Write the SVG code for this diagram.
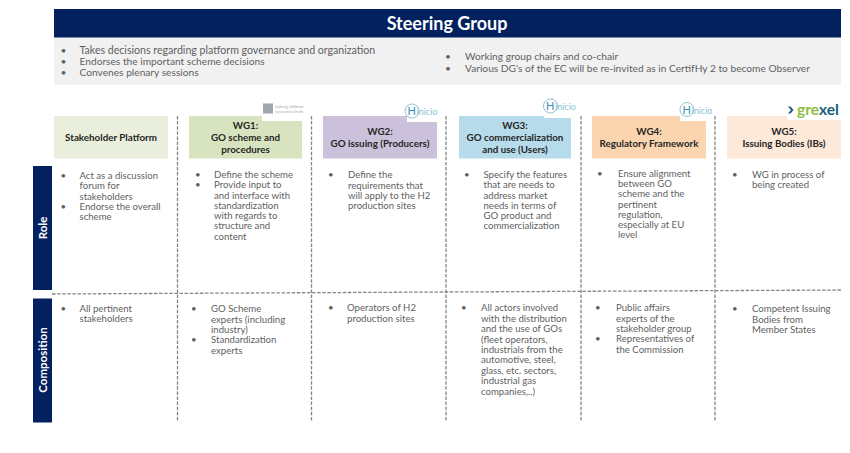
<svg xmlns="http://www.w3.org/2000/svg" width="850" height="453" viewBox="0 0 850 453">
<style>
text{font-family:"Lato","Open Sans","Liberation Sans",sans-serif}
.b{font-size:9.600px;fill:#5f5f5f}
.t{font-size:10.200px;fill:#5f5f5f}
.h{font-size:9.800px;font-weight:700;fill:#262626;text-anchor:middle}
.side{font-size:11.500px;font-weight:700;fill:#fff;text-anchor:middle}
.navy{fill:#03215f}
.dash{stroke:#858585;stroke-width:1.300;stroke-dasharray:3.500 1.600;fill:none}
.hn{font-size:9px;fill:#8cc4d6}
.hH{font-size:11px;fill:#3d8fae}
.hc{fill:#fff;stroke:#6fb3ca;stroke-width:.8}
</style>
<rect width="850" height="453" fill="#fff"/>
<g id="steering-group">
<rect x="54" y="37" width="787" height="48" fill="#f1f1f1"/>
<rect class="navy" x="54" y="9" width="787" height="28.500"/>
<text x="447" y="30" font-size="18" font-weight="700" fill="#fff" text-anchor="middle">Steering Group</text>
<g class="t">
<text x="60.500" y="53.500">•</text><text x="79.500" y="53.500" font-size="10.600">Takes decisions regarding platform governance and organization</text>
<text x="60.500" y="65">•</text><text x="79.500" y="65">Endorses the important scheme decisions</text>
<text x="60.500" y="76">•</text><text x="79.500" y="76">Convenes plenary sessions</text>
<text x="445" y="60">•</text><text x="465" y="60">Working group chairs and co-chair</text>
<text x="445" y="71.500">•</text><text x="465" y="71.500">Various DG's of the EC will be re-invited as in CertifHy 2 to become Observer</text>
</g>
</g>
<g id="connectors">
<path class="dash" d="M177.500 116V422M311.500 116V422M446 116V422M581 116V422M715 116V422"/>
<path class="dash" d="M52 294L841 290" stroke-dasharray="4.500 2"/>
</g>
<g id="role-label"><rect class="navy" x="33" y="166" width="19" height="124"/><text class="side" transform="translate(47 228) rotate(-90)">Role</text></g>
<g id="composition-label"><rect class="navy" x="33" y="298.500" width="19" height="124"/><text class="side" transform="translate(47 360) rotate(-90)">Composition</text></g>
<g id="stakeholder-platform">
<rect x="54" y="116" width="114" height="42.500" fill="#e9efdc"/>
<text class="h" x="111" y="141">Stakeholder Platform</text>
<g class="b">
<text x="60.500" y="179">•</text><text x="79.500" y="179">Act as a discussion</text><text x="79.500" y="189">forum for</text><text x="79.500" y="199.500">stakeholders</text>
<text x="60.500" y="209.500">•</text><text x="79.500" y="209.500">Endorse the overall</text><text x="79.500" y="220">scheme</text>
<text x="60.500" y="311.500">•</text><text x="79.500" y="311.500">All pertinent</text><text x="79.500" y="322">stakeholders</text>
</g>
</g>
<g id="wg1">
<rect x="189" y="116" width="113" height="42.500" fill="#d8e4bf"/>
<rect x="262" y="116" width="41" height="5" fill="#fff"/>
<text class="h" x="245.500" y="129">WG1:</text><text class="h" x="245.500" y="141">GO scheme and</text><text class="h" x="245.500" y="153">procedures</text>
<rect x="263" y="103.500" width="10" height="10" fill="#a0a8ad"/>
<text x="275" y="107.500" font-size="4.500" fill="#a8b0b6">ludwig bölkow</text><text x="275" y="112.500" font-size="4.500" fill="#a8b0b6">systemtechnik</text>
<g class="b">
<text x="195" y="178">•</text><text x="214" y="178">Define the scheme</text>
<text x="195" y="188">•</text><text x="214" y="188">Provide input to</text><text x="214" y="198.500">and interface with</text><text x="214" y="208.500">standardization</text><text x="214" y="219">with regards to</text><text x="214" y="229">structure and</text><text x="214" y="239.500">content</text>
<text x="191" y="312">•</text><text x="211" y="312">GO Scheme</text><text x="211" y="323">experts (including</text><text x="211" y="333">industry)</text>
<text x="191" y="343">•</text><text x="211" y="343">Standardization</text><text x="211" y="354">experts</text>
</g>
</g>
<g id="wg2">
<rect x="323" y="116" width="114" height="42.500" fill="#ccc1da"/>
<rect x="407" y="116" width="30" height="6" fill="#fff"/>
<text class="h" x="380" y="135">WG2:</text><text class="h" x="380" y="147">GO issuing (Producers)</text>
<circle class="hc" cx="412" cy="111" r="7"/><text class="hH" x="407.500" y="115">H</text><text class="hn" x="416.500" y="115">inicio</text>
<g class="b">
<text x="328" y="178">•</text><text x="348" y="178">Define the</text><text x="348" y="188.500">requirements that</text><text x="348" y="198.500">will apply to the H2</text><text x="348" y="209">production sites</text>
<text x="328" y="311">•</text><text x="347" y="311">Operators of H2</text><text x="347" y="321.500">production sites</text>
</g>
</g>
<g id="wg3">
<rect x="459" y="116" width="112" height="42.500" fill="#b6dbea"/>
<rect x="544" y="116" width="27" height="2" fill="#fff"/>
<text class="h" x="515" y="129">WG3:</text><text class="h" x="515" y="141">GO commercialization</text><text class="h" x="515" y="153">and use (Users)</text>
<circle class="hc" cx="550.500" cy="106" r="7"/><text class="hH" x="546" y="110">H</text><text class="hn" x="555" y="110">inicio</text>
<g class="b">
<text x="464" y="178">•</text><text x="483.500" y="178">Specify the features</text><text x="483.500" y="188">that are needs to</text><text x="483.500" y="198.500">address market</text><text x="483.500" y="208.500">needs in terms of</text><text x="483.500" y="219">GO product and</text><text x="483.500" y="229">commercialization</text>
<text x="461" y="311">•</text><text x="481" y="311">All actors involved</text><text x="481" y="322">with the distribution</text><text x="481" y="332">and the use of GOs</text><text x="481" y="342.500">(fleet operators,</text><text x="481" y="353">industrials from the</text><text x="481" y="363">automotive, steel,</text><text x="481" y="374">glass, etc. sectors,</text><text x="481" y="384">industrial gas</text><text x="481" y="394.500">companies,..)</text>
</g>
</g>
<g id="wg4">
<rect x="592" y="116" width="114" height="42.500" fill="#fbd5b0"/>
<rect x="680" y="116" width="26" height="5" fill="#fff"/>
<text class="h" x="649" y="135">WG4:</text><text class="h" x="649" y="147">Regulatory Framework</text>
<circle class="hc" cx="687" cy="109.500" r="7"/><text class="hH" x="682.500" y="113.500">H</text><text class="hn" x="691.500" y="113.500">inicio</text>
<g class="b">
<text x="597" y="176.500">•</text><text x="618" y="176.500">Ensure alignment</text><text x="618" y="187">between GO</text><text x="618" y="197">scheme and the</text><text x="618" y="207.500">pertinent</text><text x="618" y="217.500">regulation,</text><text x="618" y="228">especially at EU</text><text x="618" y="238">level</text>
<text x="595" y="311">•</text><text x="616" y="311">Public affairs</text><text x="616" y="321.500">experts of the</text><text x="616" y="332">stakeholder group</text>
<text x="595" y="342">•</text><text x="616" y="342">Representatives of</text><text x="616" y="352.500">the Commission</text>
</g>
</g>
<g id="wg5">
<rect x="727" y="116" width="114" height="42.500" fill="#fde9d9"/>
<rect x="787" y="116" width="54" height="4" fill="#fff"/>
<text class="h" x="784" y="135">WG5:</text><text class="h" x="784" y="147">Issuing Bodies (IBs)</text>
<path d="M788 106.500l3 3.500-3 3.500h2.500l3-3.500-3-3.500z" fill="#17607a"/>
<text x="797" y="115" font-size="15.500" font-weight="700"><tspan fill="#8fbe3f">gre</tspan><tspan fill="#17607a">xel</tspan></text>
<g class="b">
<text x="732" y="178">•</text><text x="752" y="178">WG in process of</text><text x="752" y="188">being created</text>
<text x="732" y="312">•</text><text x="752" y="312">Competent Issuing</text><text x="752" y="322.500">Bodies from</text><text x="752" y="333">Member States</text>
</g>
</g>
</svg>
